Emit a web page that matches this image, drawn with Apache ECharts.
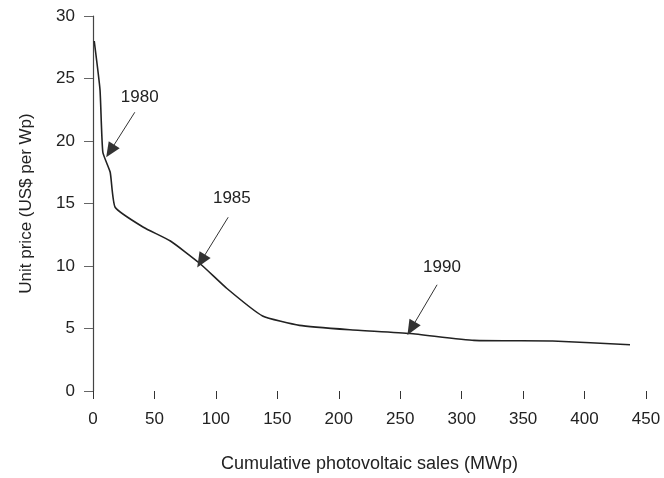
<!DOCTYPE html>
<html>
<head>
<meta charset="utf-8">
<script src="https://cdn.jsdelivr.net/npm/echarts@6/dist/echarts.min.js"></script>
<style>
  html, body { margin: 0; padding: 0; background: #fff; }
  #chart { width: 664px; height: 478px; }
</style>
</head>
<body>
<div id="chart"></div>
<script>
// cumulative sales (MWp) and unit price (US$ per Wp)
var sales = [1, 5.7, 8, 14, 18, 41, 63, 87, 109, 138, 168, 209, 258, 310, 374, 437];
var price = [28, 24.1, 19.1, 17.5, 14.7, 13.1, 12.0, 10.2, 8.2, 6.0, 5.25, 4.9, 4.6, 4.05, 4.0, 3.7];
var yTicks = [0, 5, 10, 15, 20, 25, 30];
var xTicks = [0, 50, 100, 150, 200, 250, 300, 350, 400, 450];

// year annotations: text position, arrow tail and arrow head (data coords)
var years = ['1980', '1985', '1990'];
var yearText = [[38, 23.5], [113, 15.4], [284, 9.9]];
var arrowTail = [[34, 22.3], [110, 13.9], [280, 8.5]];
var arrowHead = [[14, 19.2], [88, 10.4], [259, 5.0]];

(function () {
    var myChart = echarts.init(document.getElementById('chart'));
    var font = 'Liberation Sans, Arial, sans-serif';

    var points = sales.map(function (x, i) { return [x, price[i]]; });
    var arrows = arrowTail.map(function (t, i) {
        return [{ coord: t }, { coord: arrowHead[i] }];
    });
    var labels = yearText.map(function (p, i) { return { value: p, name: years[i] }; });

    var option = {
        animation: false,
        grid: { left: 93, right: 18, top: 16, bottom: 85 },
        xAxis: {
            type: 'value',
            min: 0, max: 450, interval: 50,
            name: 'Cumulative photovoltaic sales (MWp)',
            nameLocation: 'middle',
            nameGap: 64,
            nameTextStyle: { color: '#222', fontSize: 18, fontFamily: font },
            axisLine: { show: false },
            axisTick: { show: true, length: 8, lineStyle: { color: '#333' } },
            axisLabel: {
                color: '#222', fontSize: 17, fontFamily: font, margin: 20,
                formatter: function (v) { return xTicks.indexOf(v) >= 0 ? v : ''; }
            },
            splitLine: { show: false }
        },
        yAxis: {
            type: 'value',
            min: 0, max: 30, interval: 5,
            name: 'Unit price (US$ per Wp)',
            nameLocation: 'middle',
            nameGap: 58,
            nameTextStyle: { color: '#222', fontSize: 17, fontFamily: font },
            axisLine: { show: true, lineStyle: { color: '#444', width: 1.2 } },
            axisTick: { show: true, length: 9, lineStyle: { color: '#666' } },
            axisLabel: {
                color: '#222', fontSize: 17, fontFamily: font, margin: 18,
                formatter: function (v) { return yTicks.indexOf(v) >= 0 ? v : ''; }
            },
            splitLine: { show: false }
        },
        series: [
            {
                name: 'price',
                type: 'line',
                data: points,
                showSymbol: false,
                smooth: 0.15,
                lineStyle: { color: '#222', width: 1.6 },
                markLine: {
                    silent: true,
                    symbol: ['none', 'triangle'],
                    symbolSize: [13, 15],
                    lineStyle: { color: '#333', width: 1, type: 'solid' },
                    label: { show: false },
                    data: arrows
                }
            },
            {
                name: 'years',
                type: 'scatter',
                data: labels,
                symbolSize: 0,
                silent: true,
                itemStyle: { opacity: 1 },
                label: {
                    show: true,
                    position: 'inside',
                    formatter: '{b}',
                    color: '#222',
                    fontSize: 17,
                    fontFamily: font
                }
            }
        ]
    };

    myChart.setOption(option);
    window.addEventListener('resize', function () {
        myChart.resize();
    });
})();
</script>
</body>
</html>
